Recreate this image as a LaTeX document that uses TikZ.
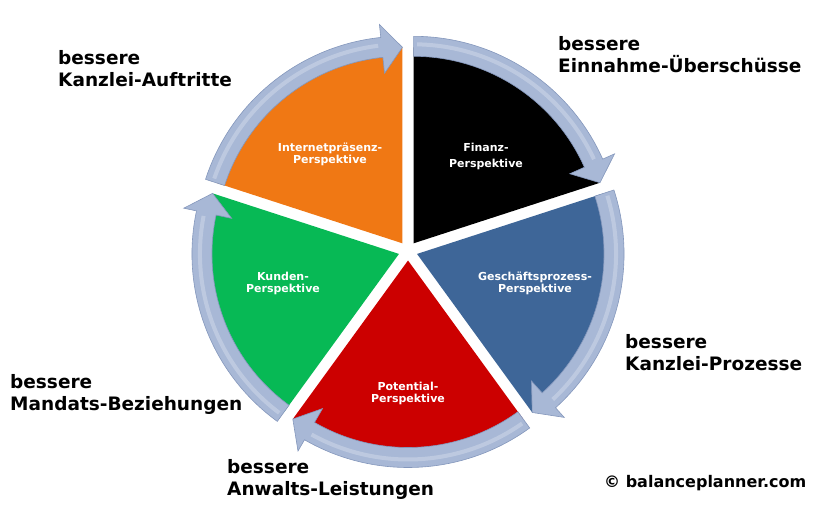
\documentclass[tikz,border=0pt]{standalone}
\usepackage{fontspec}
\setmainfont{DejaVu Sans}
\definecolor{finanzC}{HTML}{000000}
\definecolor{prozessC}{HTML}{3E6698}
\definecolor{potentialC}{HTML}{CC0000}
\definecolor{kundenC}{HTML}{07B955}
\definecolor{internetC}{HTML}{F07814}
\definecolor{ringC}{HTML}{A8B8D6}
\definecolor{ringedgeC}{HTML}{8497BC}
\begin{document}
\begin{tikzpicture}[x=1pt, y=1pt,
    sector/.style={font=\fontsize{11}{12}\selectfont\bfseries, text=white, align=center, inner sep=0pt},
    goal/.style={font=\fontsize{18.5}{22}\selectfont\bfseries, align=left, anchor=north west, inner sep=0pt}]
        \useasboundingbox (0,0) rectangle (817,511);

        \coordinate (C) at (408,260);

        % Apexes of the exploded pieces
        \coordinate (F) at ([shift={(54:9.5)}]C);
        \coordinate (G) at ([shift={(-18:9.5)}]C);
        \coordinate (P) at ([shift={(-90:9.5)}]C);
        \coordinate (K) at ([shift={(198:9.5)}]C);
        \coordinate (I) at ([shift={(126:9.5)}]C);

        % Pieces
        \foreach \a/\s/\e/\c in {F/18/90/finanzC, G/-54/18/prozessC, P/-126/-54/potentialC, K/-198/-126/kundenC, I/90/162/internetC}
            \fill[\c, shift={(\a)}] (0,0) -- (\s:196) arc[start angle=\s, end angle=\e, radius=196pt] -- cycle;

        % Arrows round the pieces
        \foreach \a/\s/\e in {F/90/18, G/18/-54, P/-54/-126, K/-126/-198, I/162/90} {
            \filldraw[fill=ringC, draw=ringedgeC, line width=0.6pt, shift={(\a)}]
                (\s:207) arc[start angle=\s, end angle=\e+6, radius=207pt]
                -- (\e+6:220) -- (\e:196) -- (\e+6:171) -- (\e+6:187)
                arc[start angle=\e+6, end angle=\s, radius=187pt] -- cycle;
            \draw[white, opacity=0.25, line width=4pt, shift={(\a)}]
                (\s-1:199) arc[start angle=\s-1, end angle=\e+7, radius=199pt];
        }

        % Texts in the pieces
        \node[sector] (finanz) at (486,355) {Finanz-\\[4pt]Perspektive};
        \node[sector] (prozess) at (535,227.5) {Geschäftsprozess-\\Perspektive};
        \node[sector] (potential) at (408,117.5) {Potential-\\Perspektive};
        \node[sector] (kunden) at (283,227.5) {Kunden-\\Perspektive};
        \node[sector] (internet) at (330,357) {Internetpräsenz-\\Perspektive};

        % Goals
        \node[goal] (einnahme) at (558,475.1) {bessere\\Einnahme-Überschüsse};
        \node[goal] (kprozesse) at (625,177.1) {bessere\\Kanzlei-Prozesse};
        \node[goal] (mandate) at (10,137.1) {bessere\\Mandats-Beziehungen};
        \node[goal] (leistungen) at (227,52.1) {bessere\\Anwalts-Leistungen};
        \node[goal] (auftritte) at (58,461.1) {bessere\\Kanzlei-Auftritte};

        \node[font=\fontsize{16}{18}\selectfont\bfseries, anchor=base west, inner sep=0pt] (copy) at (604,23) {© balanceplanner.com};

    \end{tikzpicture}
\end{document}
